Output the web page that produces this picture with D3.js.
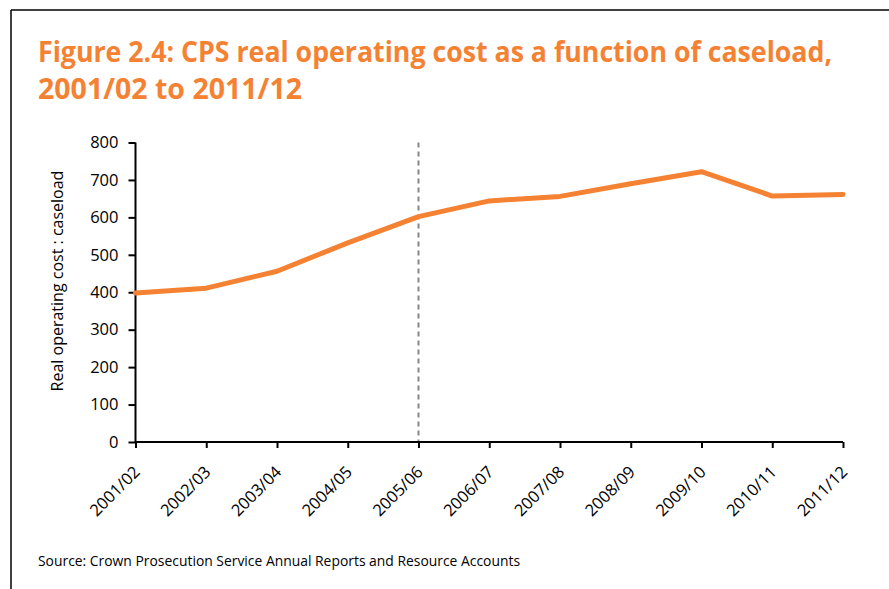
<!DOCTYPE html>
<html>
<head>
<meta charset="utf-8">
<script src="https://cdn.jsdelivr.net/npm/d3@7"></script>
<style>
  body { margin: 0; background: #fff; }
  text { font-family: "Open Sans", "Noto Sans", sans-serif; }
</style>
</head>
<body>
<div id="chart"></div>
<script>
// data
var years = ["2001/02", "2002/03", "2003/04", "2004/05", "2005/06", "2006/07",
             "2007/08", "2008/09", "2009/10", "2010/11", "2011/12"];
var costRatio = [398, 411, 456, 532, 602, 644, 656, 690, 722, 657, 661];
var yTicks = [0, 100, 200, 300, 400, 500, 600, 700, 800];
var markerYear = "2005/06";

var titleLines = ["Figure 2.4: CPS real operating cost as a function of caseload,",
                  "2001/02 to 2011/12"];
var yLabel = "Real operating cost : caseload";
var source = "Source: Crown Prosecution Service Annual Reports and Resource Accounts";

var containerWidth = 889,
    containerHeight = 589,
    orange = "#f58232";

var svg = d3.select("#chart")
    .append("svg")
    .attr("width", containerWidth)
    .attr("height", containerHeight);

// frame (top + left rule)
svg.append("line").attr("x1", 11).attr("x2", containerWidth).attr("y1", 10).attr("y2", 10)
    .attr("stroke", "#000").attr("stroke-width", 1.5);
svg.append("line").attr("x1", 11).attr("x2", 11).attr("y1", 10).attr("y2", containerHeight)
    .attr("stroke", "#000").attr("stroke-width", 1.5);

// title
svg.append("g").selectAll("text")
    .data(titleLines)
    .join("text")
    .attr("x", 38)
    .attr("y", function(d, i) { return 62 + i * 37; })
    .attr("fill", orange)
    .attr("font-size", 28)
    .attr("font-weight", 700)
    .attr("textLength", function(d, i) { return i == 0 ? 794 : 264; })
    .attr("lengthAdjust", "spacingAndGlyphs")
    .text(function(d) { return d; });

// scales
var x = d3.scalePoint().domain(years).range([135.5, 843]);
var y = d3.scaleLinear().domain([0, 800]).range([442, 142.5]);

// dashed marker line
svg.append("line")
    .attr("x1", x(markerYear)).attr("x2", x(markerYear))
    .attr("y1", y(800)).attr("y2", y(0))
    .attr("stroke", "#888").attr("stroke-width", 2)
    .attr("stroke-dasharray", "5,4");

// y axis
var yAxis = svg.append("g")
    .attr("transform", "translate(" + x(years[0]) + ",0)")
    .call(d3.axisLeft(y).tickValues(yTicks).tickSize(7).tickPadding(10));

// x axis
var xAxis = svg.append("g")
    .attr("transform", "translate(0," + y(0) + ")")
    .call(d3.axisBottom(x).tickSize(6));

[yAxis, xAxis].forEach(function(ax) {
    ax.select(".domain").attr("stroke", "#000").attr("stroke-width", 2);
    ax.selectAll(".tick line").attr("stroke", "#000").attr("stroke-width", 2);
    ax.selectAll("text").attr("fill", "#000").attr("font-size", 16.5)
        .style("font-family", "'Open Sans', sans-serif");
});
yAxis.select(".domain").attr("d", "M0," + y(0) + "V" + y(800));
xAxis.select(".domain").attr("d", "M" + x(years[0]) + ",0H" + x(years[years.length - 1]));

xAxis.selectAll(".tick text")
    .attr("text-anchor", "end")
    .attr("x", 0).attr("y", 0).attr("dy", 0)
    .attr("transform", "translate(5,31) rotate(-45)");

// line
var line = d3.line()
    .x(function(d, i) { return x(years[i]); })
    .y(function(d) { return y(d); });

svg.append("path")
    .datum(costRatio)
    .attr("fill", "none")
    .attr("stroke", orange)
    .attr("stroke-width", 5)
    .attr("stroke-linejoin", "round")
    .attr("stroke-linecap", "round")
    .attr("d", line);

// y label
svg.append("text")
    .attr("transform", "translate(63," + 281 + ") rotate(-90)")
    .attr("text-anchor", "middle")
    .attr("font-size", 16)
    .attr("fill", "#000")
    .text(yLabel);

// source
svg.append("text")
    .attr("x", 38)
    .attr("y", 566)
    .attr("font-size", 14)
    .attr("fill", "#000")
    .attr("textLength", 482)
    .attr("lengthAdjust", "spacingAndGlyphs")
    .text(source);
</script>
</body>
</html>
